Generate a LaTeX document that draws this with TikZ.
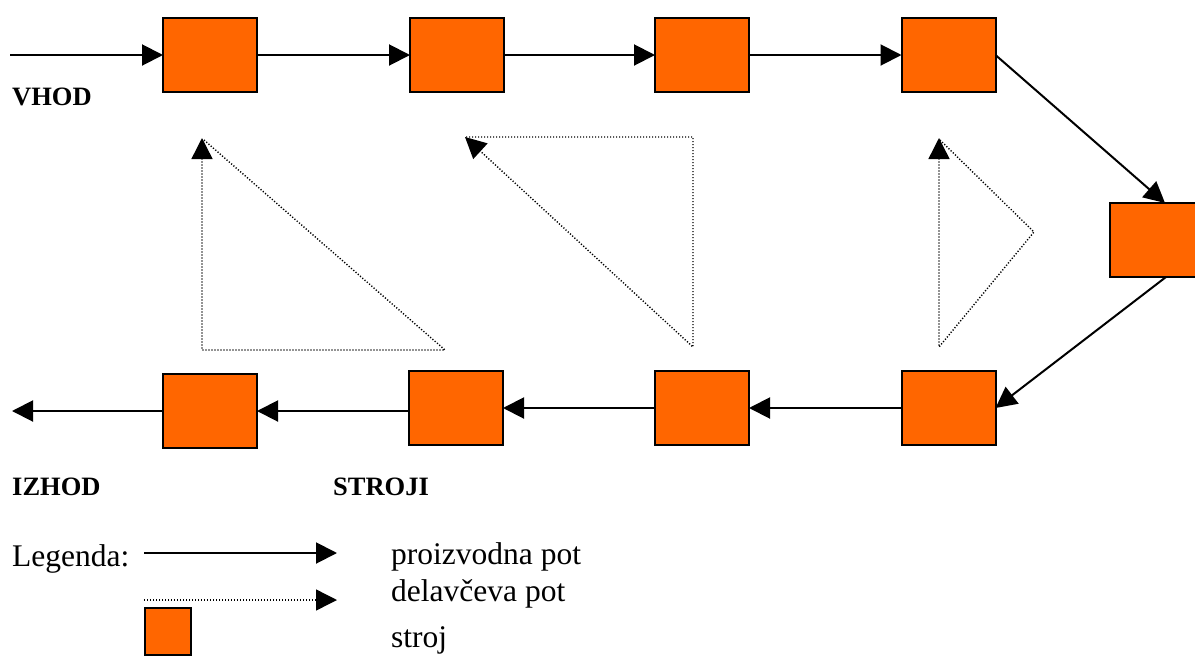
\documentclass[tikz,border=0pt]{standalone}
\usepackage{fontspec}
\setmainfont{Liberation Serif}
\usetikzlibrary{arrows.meta}
\definecolor{machine}{HTML}{FF6600}
\begin{document}
\begin{tikzpicture}[x=1pt,y=-1pt,
  stroj/.style={draw=black, fill=machine, line width=2pt, minimum width=94pt, minimum height=74pt, inner sep=0pt, outer sep=0pt},
  prod/.style={line width=2pt, -{Triangle[length=21pt,width=21pt]}},
  worker/.style={line width=1.4pt, dash pattern=on 1.2pt off 1.8pt, -{Triangle[length=21pt,width=21pt]}},
  lbl/.style={font=\fontsize{26.5}{30}\selectfont\bfseries, anchor=base west, inner sep=0pt},
  txt/.style={font=\fontsize{31.5}{37}\selectfont, anchor=base west, inner sep=0pt}]
\useasboundingbox (0,0) rectangle (1195,659);
% machines
\node[stroj] (m1) at (210,55) {};
\node[stroj] (m2) at (457,55) {};
\node[stroj] (m3) at (702,55) {};
\node[stroj] (m4) at (948.5,55) {};
\node[stroj] (m5) at (1157,240) {};
\node[stroj] (m6) at (948.5,408) {};
\node[stroj] (m7) at (702,408) {};
\node[stroj] (m8) at (456,408) {};
\node[stroj] (m9) at (210,411) {};
\coordinate (in) at (10,55);
\coordinate (out) at (12,411);
% production path
\draw[prod] (in) -- (m1.west);
\draw[prod] (m1.east) -- (m2.west);
\draw[prod] (m2.east) -- (m3.west);
\draw[prod] (m3.east) -- (m4.west);
\draw[prod] (m4.east) -- ([xshift=8pt]m5.north);
\draw[prod] ([xshift=9pt]m5.south) -- (m6.east);
\draw[prod] (m6.west) -- (m7.east);
\draw[prod] (m7.west) -- (m8.east);
\draw[prod] (m8.west |- m9.east) -- (m9.east);
\draw[prod] (m9.west) -- (out);
% worker paths
\draw[worker] (204,140) -- (445,350) -- (202,350) -- (202,138);
\draw[worker] (466,137) -- (693,137) -- (693,347) -- (465,137);
\draw[worker] (940,140) -- (1034,232) -- (939,347) -- (939,138);
% labels
\node[lbl] (vhod) at (12,105) {VHOD};
\node[lbl] (izhod) at (12,495) {IZHOD};
\node[lbl] (stroji) at (333,495) {STROJI};
% legend
\node[txt] (leg) at (12,566) {Legenda:};
\coordinate (l1a) at (144,553);
\coordinate (l1b) at (337,553);
\coordinate (l2a) at (144,600);
\coordinate (l2b) at (337,600);
\draw[prod] (l1a) -- (l1b);
\draw[worker] (l2a) -- (l2b);
\node[stroj, minimum width=46pt, minimum height=47pt] (lbox) at (168,631.5) {};
\node[txt] (t1) at (391,564) {proizvodna pot};
\node[txt] (t2) at (391,601) {delavčeva pot};
\node[txt] (t3) at (391,647) {stroj};
\end{tikzpicture}
\end{document}
